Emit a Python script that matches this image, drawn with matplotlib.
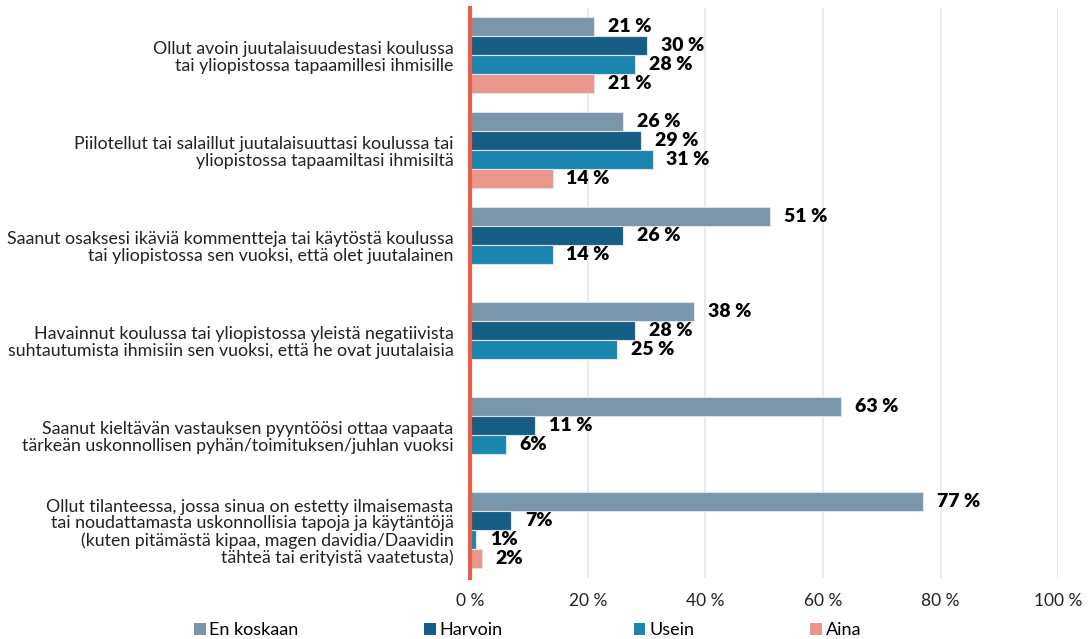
import numpy as np
import matplotlib.pyplot as plt
from matplotlib.patches import Patch

plt.rcParams['font.family'] = ['Lato', 'DejaVu Sans']

categories = [
    'Ollut avoin juutalaisuudestasi koulussa\ntai yliopistossa tapaamillesi ihmisille',
    'Piilotellut tai salaillut juutalaisuuttasi koulussa tai\nyliopistossa tapaamiltasi ihmisiltä',
    'Saanut osaksesi ikäviä kommentteja tai käytöstä koulussa\ntai yliopistossa sen vuoksi, että olet juutalainen',
    'Havainnut koulussa tai yliopistossa yleistä negatiivista\nsuhtautumista ihmisiin sen vuoksi, että he ovat juutalaisia',
    'Saanut kieltävän vastauksen pyyntöösi ottaa vapaata\ntärkeän uskonnollisen pyhän/toimituksen/juhlan vuoksi',
    'Ollut tilanteessa, jossa sinua on estetty ilmaisemasta\ntai noudattamasta uskonnollisia tapoja ja käytäntöjä\n(kuten pitämästä kipaa, magen davidia/Daavidin\ntähteä tai erityistä vaatetusta)',
]
series = ['En koskaan', 'Harvoin', 'Usein', 'Aina']
en_koskaan = [21, 26, 51, 38, 63, 77]
harvoin = [30, 29, 26, 28, 11, 7]
usein = [28, 31, 14, 25, 6, 1]
aina = [21, 14, None, None, None, 2]
# some labels in the source are written without the space
labels = [
    ['21 %', '26 %', '51 %', '38 %', '63 %', '77 %'],
    ['30 %', '29 %', '26 %', '28 %', '11 %', '7%'],
    ['28 %', '31 %', '14 %', '25 %', '6%', '1%'],
    ['21 %', '14 %', None, None, None, '2%'],
]
colors = ['#7a96aa', '#175e86', '#1a86ae', '#e9968d']

fig = plt.figure(figsize=(10.91, 6.39), dpi=100)
ax = fig.add_axes([0.431, 0.0955, 0.539, 0.892])

bar_h = 1.0
group_step = 5.0
values = [en_koskaan, harvoin, usein, aina]
for s, vals in enumerate(values):
    for g, v in enumerate(vals):
        if v is None:
            continue
        y = g * group_step + s * bar_h
        ax.barh(y, v, height=bar_h, color=colors[s], edgecolor='#dde3e8', linewidth=0.8, zorder=3)
        ax.annotate(labels[s][g], (v, y), xytext=(10, 0), textcoords='offset points',
                    ha='left', va='center', fontsize=14, fontweight='heavy', color='black')

centers = [g * group_step + 1.5 for g in range(len(categories))]
ax.set_yticks(centers)
ax.set_yticklabels(categories, fontsize=12.8, color='#222222', linespacing=1.05)
ax.tick_params(axis='y', length=0, pad=12)
ax.set_ylim(29, -1)

ax.set_xlim(0, 100)
ax.set_xticks([0, 20, 40, 60, 80, 100])
ax.set_xticklabels(['0 %', '20 %', '40 %', '60 %', '80 %', '100 %'], fontsize=12.5, color='#222222')
ax.tick_params(axis='x', length=0, pad=11)
ax.grid(axis='x', color='#e6e6e6', linewidth=1.2, zorder=0)

for side in ['top', 'right', 'bottom']:
    ax.spines[side].set_visible(False)
ax.spines['left'].set_color('#e8604a')
ax.spines['left'].set_linewidth(3)
ax.spines['left'].set_zorder(5)

# legend entries sit at fixed positions along the bottom
legend_x = [0.163, 0.374, 0.566, 0.728]
for name, c, lx in zip(series, colors, legend_x):
    fig.legend([Patch(facecolor=c, edgecolor='none')], [name], loc='lower left',
               bbox_to_anchor=(lx, -0.024), frameon=False, fontsize=13,
               handlelength=0.65, handleheight=0.65, handletextpad=0.2)

fig.savefig('out.png', dpi=100)
